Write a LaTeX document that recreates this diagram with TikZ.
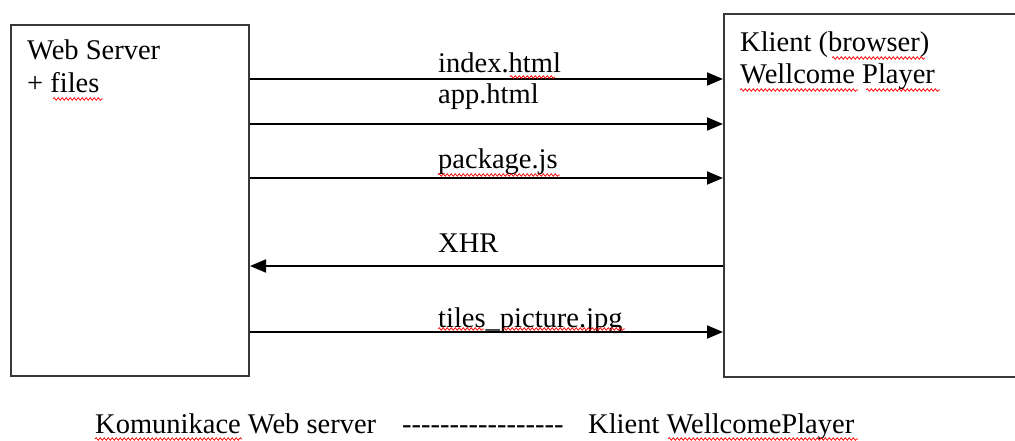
\documentclass[tikz,border=0pt]{standalone}
\usepackage{fontspec}
\setmainfont{Liberation Serif}[Ligatures=TeXOff]
\usetikzlibrary{arrows.meta,decorations.pathmorphing}
\begin{document}
\begin{tikzpicture}[x=1pt,y=-1pt,
  box/.style={draw=black!78,line width=2pt,fill=none,inner sep=0pt,anchor=north west},
  txt/.style={inner sep=0pt,anchor=base west,font=\fontsize{28.5}{33}\selectfont},
  arr/.style={line width=1.8pt,-{Triangle[length=16pt,width=13pt]}},
  squig/.style={red,line width=0.7pt,decorate,decoration={snake,amplitude=1.3pt,segment length=4pt}}]
\useasboundingbox (0,0) rectangle (1015,441);
\clip (0,0) rectangle (1015,441);
% boxes
\node[box,minimum width=238pt,minimum height=351pt] (server) at (10,24) {};
\node[box,minimum width=320pt,minimum height=363pt] (client) at (723,13) {};
% box texts
\node[txt] (srvA) at (27,60) {Web Server};
\node[txt] (srvB) at (27,93) {+ files};
\node[txt] (cliA) at (740,52) {Klient (browser)};
\node[txt] (cliB) at (740,84) {Wellcome Player};
% arrows
\draw[arr] (server.east |- 0,79) -- (client.west |- 0,79);
\draw[arr] (server.east |- 0,124) -- (client.west |- 0,124);
\draw[arr] (server.east |- 0,178) -- (client.west |- 0,178);
\draw[arr] (client.west |- 0,266) -- (server.east |- 0,266);
\draw[arr] (server.east |- 0,332) -- (client.west |- 0,332);
% arrow labels
\node[txt] (l1) at (438,73) {index.html};
\node[txt] (l2) at (438,104) {app.html};
\node[txt] (l3) at (438,168) {package.js};
\node[txt] (l4) at (438,252) {XHR};
\node[txt] (l5) at (438,327) {tiles\_picture.jpg};
% caption
\node[txt] (capA) at (95,433) {Komunikace Web server};
\node[txt] (capB) at (402,433) {-----------------};
\node[txt] (capC) at (588,433) {Klient WellcomePlayer};
% spelling squiggles
\draw[squig] (53,99) -- (103,99);
\draw[squig] (510,77) -- (555,77);
\draw[squig] (438,175) -- (560,175);
\draw[squig] (438,329) -- (484,329);
\draw[squig] (503,329) -- (625,329);
\draw[squig] (832,58) -- (925,58);
\draw[squig] (740,90) -- (858,90);
\draw[squig] (866,90) -- (940,90);
\draw[squig] (95,439) -- (242,439);
\draw[squig] (668,439) -- (858,439);
\end{tikzpicture}
\end{document}
